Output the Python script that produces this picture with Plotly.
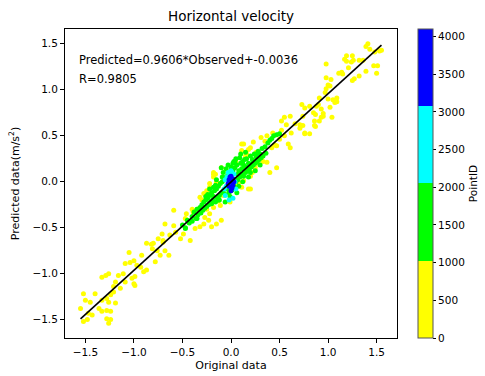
import plotly.graph_objects as go

# ---- data ----
yellow_x = [1.41, 1.43, 1.39, 1.53, 1.48, 1.19, 1.25, 1.26, 1.24, 1.19, 1.17, 1.36, 1.32, 1.47, 1.51,
            0.98, 1.21, 1.14, 1.15, 1.11, 1.39, 1.32, 1.27, 1.25, 1.50, 0.98, 1.03, 1.00, 1.02, 0.98,
            0.97, 1.09, 1.05, 1.00, 0.91, 0.90, 0.88, 0.85, 0.95, 1.07, 1.09, 1.02, 0.93, 1.04, 0.86,
            0.87, 0.73, 0.76, 0.74, 0.71, 0.74, 0.76, 1.55,
            0.81, 0.93, 0.95, 0.87, 0.91, 0.61, 0.55, 0.52, 0.57, 0.66, 0.71, 0.76, 0.81, 0.86, 0.62,
            0.55, 0.50, 0.47, 0.59, 0.43, 0.37, 0.31, 0.23, 0.13, 0.20, 0.11, 0.16, 0.26, 0.31, 0.37,
            0.40, 0.47, 0.08, 0.20, 0.11, 0.04, 0.42, 0.61,
            -0.71, -0.75, -0.70, -0.87, -0.82, -1.05, -0.92, -1.00, -1.04, -0.97, -1.09, -0.93, -0.78,
            -0.87, -0.90, -0.99, -1.02, -1.00, -0.99, -1.11, -1.16, -1.14, -1.21, -1.26, -1.29, -1.33,
            -1.21, -1.24, -1.28, -1.33, -1.36, -1.26, -1.19, -1.28, -1.24, -1.33, -1.40, -1.45, -1.50,
            -1.52, -1.55, -1.47, -1.48, -1.43, -1.28, -1.26, -1.24, -1.52, -1.09, -1.19,
            -0.10, -0.16, -0.18, -0.15, -0.22, -0.25, -0.28, -0.32, -0.08, -0.13, -0.11, -0.18, -0.01,
            -0.22, -0.23, -0.27, -0.28, -0.32, -0.20, -0.10, -0.15, -0.35, -0.39, -0.46, -0.47, -0.59,
            -0.68, -0.59, -0.57, -0.49, -0.52, -0.63, -0.70, -0.80, -0.81, -0.76, -0.68, -0.64, -0.73,
            -0.42, -0.37,
            0.11, 0.18, -0.18, 0.18, -0.18, -0.22, 0.20, 0.13, 0.35, 0.45, 0.52, 0.28, 0.05, -0.05,
            -0.30, -0.25, 0.25, 0.33, 0.15, -0.40, -0.12, 0.22]
yellow_y = [1.50, 1.44, 1.47, 1.42, 1.41, 1.37, 1.37, 1.32, 1.30, 1.31, 1.33, 1.32, 1.32, 1.26, 1.26,
            1.28, 1.24, 1.19, 1.17, 1.18, 1.20, 1.15, 1.12, 1.10, 1.18, 1.13, 1.11, 1.05, 1.04, 1.01,
            0.97, 0.91, 0.89, 0.90, 0.91, 0.84, 0.82, 0.75, 0.74, 0.86, 0.87, 0.81, 0.70, 0.70, 0.66,
            0.60, 0.84, 0.80, 0.71, 0.62, 0.61, 0.52, 1.43,
            0.82, 0.79, 0.71, 0.73, 0.66, 0.71, 0.70, 0.66, 0.62, 0.63, 0.58, 0.53, 0.52, 0.61, 0.53,
            0.50, 0.46, 0.39, 0.41, 0.53, 0.50, 0.48, 0.43, 0.41, 0.37, 0.34, 0.30, 0.32, 0.25, 0.21,
            0.10, 0.15, -0.01, -0.08, -0.06, -0.04, 0.37, 0.37,
            -0.57, -0.62, -0.66, -0.67, -0.68, -0.77, -0.80, -0.86, -0.88, -0.91, -0.89, -0.93, -0.87,
            -0.96, -0.98, -1.03, -1.05, -1.11, -1.13, -1.00, -1.02, -1.16, -1.20, -1.00, -1.02, -1.04,
            -1.14, -1.23, -1.27, -1.29, -1.38, -1.31, -1.32, -1.40, -1.41, -1.41, -1.22, -1.31, -1.29,
            -1.22, -1.38, -1.43, -1.50, -1.45, -1.49, -1.54, -1.50, -1.52, -1.09, -1.09,
            0.15, 0.08, 0.05, -0.01, -0.06, -0.10, -0.13, -0.17, -0.15, -0.21, -0.26, -0.28, -0.22,
            -0.35, -0.42, -0.39, -0.46, -0.49, -0.49, -0.42, -0.46, -0.30, -0.33, -0.35, -0.40, -0.31,
            -0.46, -0.48, -0.55, -0.57, -0.62, -0.58, -0.64, -0.67, -0.73, -0.75, -0.75, -0.80, -0.80,
            -0.64, -0.51,
            0.41, 0.35, 0.08, -0.08, 0.10, -0.02, 0.06, 0.01, 0.44, 0.40, 0.56, 0.20, 0.22, 0.12,
            -0.20, -0.30, 0.15, 0.22, 0.28, -0.30, -0.02, 0.10]

green_x = [-0.50, -0.47, -0.45, -0.43, -0.40, -0.40, -0.38, -0.36, -0.35, -0.34, -0.32, -0.31, -0.30,
           -0.29, -0.28, -0.27, -0.26, -0.25, -0.24, -0.23, -0.22, -0.21, -0.20, -0.19, -0.18, -0.17,
           -0.16, -0.15, -0.14, -0.13, -0.12, -0.11, -0.10, -0.09, -0.08, -0.07, -0.06, -0.05, -0.04,
           -0.03, -0.02, 0.00, 0.01, 0.02, 0.03, 0.04, 0.05, 0.06, 0.07, 0.08, 0.09, 0.10, 0.11, 0.12,
           0.13, 0.14, 0.15, 0.16, 0.17, 0.18, 0.19, 0.20, 0.21, 0.22, 0.23, 0.24, 0.25, 0.26, 0.27,
           0.28, 0.29, 0.30, 0.31, 0.32, 0.33, 0.35, 0.36, 0.38, 0.40, 0.42, 0.44, 0.47, 0.50, -0.03,
           -0.08, 0.05, 0.10, 0.15, -0.15, -0.22, 0.08, 0.18, 0.25, 0.30, 0.02, -0.10, -0.35, -0.47,
           -0.12, -0.06, 0.06, 0.12, -0.20, -0.26, 0.14, 0.20, 0.26, -0.16, 0.03, -0.01,
           -0.09, -0.05, 0.00, 0.04, 0.09, 0.13, 0.17, -0.13, -0.18, -0.24, 0.07, 0.11, -0.02, 0.22]
green_y = [-0.47, -0.50, -0.42, -0.45, -0.38, -0.43, -0.33, -0.40, -0.30, -0.36, -0.28, -0.34, -0.25,
           -0.31, -0.22, -0.29, -0.20, -0.27, -0.18, -0.25, -0.15, -0.22, -0.12, -0.20, -0.16, -0.10,
           -0.22, -0.08, -0.18, -0.05, -0.15, -0.02, -0.12, 0.00, -0.10, 0.03, -0.14, 0.05, -0.08,
           0.08, -0.12, 0.10, -0.09, 0.12, -0.05, 0.15, 0.00, 0.18, 0.02, 0.12, 0.05, 0.20, 0.08, 0.22,
           0.06, 0.16, 0.10, 0.25, 0.12, 0.20, 0.14, 0.28, 0.16, 0.24, 0.18, 0.30, 0.20, 0.27, 0.22,
           0.33, 0.24, 0.30, 0.26, 0.36, 0.28, 0.38, 0.31, 0.42, 0.45, 0.47, 0.50, 0.51, 0.52, 0.18,
           0.10, 0.25, 0.30, 0.32, 0.02, -0.08, -0.05, 0.05, 0.12, 0.18, 0.20, 0.15, -0.40, -0.51,
           -0.20, -0.22, -0.12, 0.00, -0.24, -0.16, 0.24, 0.10, 0.30, -0.04, 0.22, -0.16,
           0.05, 0.14, 0.16, 0.22, 0.26, 0.18, 0.16, -0.20, -0.06, -0.14, 0.08, 0.14, 0.02, 0.20]

cyan_x = [-0.06, -0.05, -0.04, -0.03, 0.02, 0.03, 0.04, -0.06, 0.00, -0.02, 0.05, 0.01, -0.07]
cyan_y = [-0.15, -0.05, 0.05, 0.10, -0.18, 0.08, 0.00, 0.02, 0.12, -0.20, -0.08, 0.10, -0.08]

blue_x = [0.00, -0.02, 0.02, -0.01, 0.01, -0.03, 0.03, 0.00, 0.00, -0.02, 0.02]
blue_y = [0.00, -0.05, 0.03, 0.05, -0.07, -0.02, 0.00, -0.10, 0.06, 0.02, -0.04]

group_ids = [500, 1500, 2500, 3600]   # representative PointID of each group
id_max = 4100
slope, intercept, r_value = 0.9606, -0.0036, 0.9805

# ---- figure ----
FONT = "DejaVu Sans"
fig = go.Figure()
groups = [(yellow_x, yellow_y), (green_x, green_y), (cyan_x, cyan_y), (blue_x, blue_y)]
for (gx, gy), gid in zip(groups, group_ids):
    fig.add_trace(go.Scatter(
        x=gx, y=gy, mode="markers",
        marker=dict(size=5, color=[gid] * len(gx), coloraxis="coloraxis", line=dict(width=0)),
        showlegend=False, hoverinfo="skip"))

all_x = yellow_x + green_x + cyan_x + blue_x
x0, x1 = min(all_x), max(all_x)
fig.add_trace(go.Scatter(x=[x0, x1], y=[slope * x0 + intercept, slope * x1 + intercept],
                         mode="lines", line=dict(color="black", width=1.6),
                         showlegend=False, hoverinfo="skip"))

cs = [[0, "#ffff00"], [0.25, "#ffff00"], [0.25, "#00ff00"], [0.5, "#00ff00"],
      [0.5, "#00ffff"], [0.75, "#00ffff"], [0.75, "#0000ff"], [1, "#0000ff"]]

axis_common = dict(showgrid=False, zeroline=False, showline=True, linecolor="black", linewidth=1,
                   mirror=True, ticks="outside", ticklen=4, tickcolor="black",
                   tickfont=dict(family=FONT, size=10.5, color="black"))

fig.update_layout(
    width=485, height=376,
    margin=dict(l=65, r=88, t=29, b=38, autoexpand=False),
    paper_bgcolor="white", plot_bgcolor="white",
    title=dict(text="Horizontal velocity", x=(65 + 397) / 2 / 485, xanchor="center",
               y=1 - 16 / 376, yanchor="middle", font=dict(family=FONT, size=13.5, color="black")),
    xaxis=dict(range=[-1.71, 1.71], tickvals=[-1.5, -1.0, -0.5, 0.0, 0.5, 1.0, 1.5],
               ticktext=["\u22121.5", "\u22121.0", "\u22120.5", "0.0", "0.5", "1.0", "1.5"],
               title=dict(text="Original data", font=dict(family=FONT, size=11, color="black"),
                          standoff=4), **axis_common),
    yaxis=dict(range=[-1.70, 1.66], tickvals=[-1.5, -1.0, -0.5, 0.0, 0.5, 1.0, 1.5],
               ticktext=["\u22121.5", "\u22121.0", "\u22120.5", "0.0", "0.5", "1.0", "1.5"],
               title=dict(text="Predicted data(m/s<sup>2</sup>)",
                          font=dict(family=FONT, size=11, color="black"), standoff=10),
               **axis_common),
    coloraxis=dict(
        colorscale=cs, cmin=0, cmax=id_max,
        colorbar=dict(x=(418 - 65) / 332, xanchor="left",
                      y=0.5, yanchor="middle", len=1, lenmode="fraction",
                      thickness=15, thicknessmode="pixels",
                      outlinewidth=1, outlinecolor="#555555",
                      ticks="outside", ticklen=3, tickcolor="black",
                      tickvals=[0, 500, 1000, 1500, 2000, 2500, 3000, 3500, 4000],
                      tickfont=dict(family=FONT, size=10.5, color="black"),
                      title=dict(text="PointID", side="right",
                                 font=dict(family=FONT, size=10.5, color="black")),
                      xpad=0, ypad=0)),
    annotations=[
        dict(text="Predicted=%.4f*Observed+%.4f" % (slope, intercept), xref="paper", yref="paper",
             x=0.035, y=0.90, xanchor="left", yanchor="middle", showarrow=False,
             font=dict(family=FONT, size=11.5, color="black")),
        dict(text="R=%.4f" % r_value, xref="paper", yref="paper",
             x=0.035, y=0.838, xanchor="left", yanchor="middle", showarrow=False,
             font=dict(family=FONT, size=11.5, color="black")),
    ],
)

fig.write_html("out.html")
